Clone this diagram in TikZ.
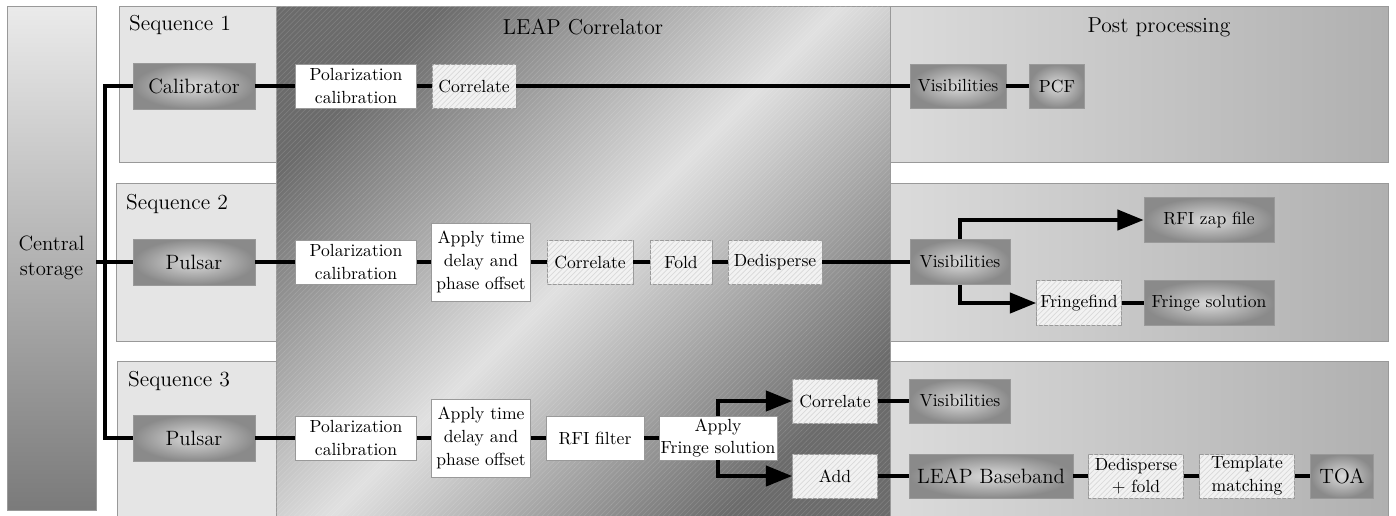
\documentclass[tikz,border=0pt]{standalone}
\usetikzlibrary{arrows.meta,patterns}

\definecolor{leapdark}{gray}{0.42}
\definecolor{leaplight}{gray}{0.88}

\begin{document}
\begin{tikzpicture}[x=0.02cm, y=-0.02cm,
    sz/.style 2 args={minimum width=#1*0.02cm, minimum height=#2*0.02cm},
    plain/.style={draw=black!40, fill=white, inner sep=1pt, align=center,
        font=\fontsize{10}{12.9}\selectfont},
    proc/.style={plain, fill=black!5, postaction={pattern=north east lines, pattern color=black!15}},
    data/.style={plain, inner color=black!14, outer color=black!46},
    bigtxt/.style={font=\fontsize{11.8}{14.5}\selectfont},
    title/.style={font=\fontsize{12.3}{15}\selectfont},
    conn/.style={line width=2.2pt},
    arr/.style={conn, -{Triangle[length=15pt,width=11.5pt]}}]
    \useasboundingbox (0,0) rectangle (1396,515);

    % Sequence rows
    \draw[draw=black!40, fill=black!10] (119,6) rectangle (890,162);
    \draw[draw=black!40, fill=black!10] (116,183) rectangle (890,341);
    \draw[draw=black!40, fill=black!10] (117,361) rectangle (890,520);
    \node[title] (seq1) at (180,25) {Sequence 1};
    \node[title] (seq2) at (177,204) {Sequence 2};
    \node[title] (seq3) at (179,381) {Sequence 3};

    % Post processing rows
    \shade[draw=black!40, left color=black!14, right color=black!31] (890,6) rectangle (1388,162);
    \shade[draw=black!40, left color=black!14, right color=black!31] (890,183) rectangle (1388,341);
    \shade[draw=black!40, left color=black!14, right color=black!31] (890,361) rectangle (1388,520);
    \node[title] (post) at (1159,27) {Post processing};

    % LEAP correlator
    \shade[draw=black!40, top color=leapdark, bottom color=leapdark, middle color=leaplight,
        shading angle=45] (276,6) rectangle (890,520);
    \fill[pattern=north east lines, pattern color=white, opacity=0.12] (276,6) rectangle (890,520);
    \node[title] (leap) at (583,27) {LEAP Correlator};

    % Central storage
    \node[draw=black!40, top color=black!8, middle color=black!20, bottom color=black!52,
        sz={89}{504}, inner sep=0pt, align=center, bigtxt] (store) at (51.5,258) {Central\\storage};

    % Sequence 1
    \node[data, bigtxt, sz={122}{46}] (cal) at (194,86) {Calibrator};
    \node[plain, sz={121}{44}] (pol1) at (356,86) {Polarization\\calibration};
    \node[proc, sz={84}{44}] (cor1) at (474,86) {Correlate};
    \node[data, sz={96}{44}] (vis1) at (958,86) {Visibilities};
    \node[data, sz={55}{44}] (pcf) at (1057,86) {PCF};

    % Sequence 2
    \node[data, bigtxt, sz={122}{46}] (psr2) at (194,262) {Pulsar};
    \node[plain, sz={121}{44}] (pol2) at (356,262) {Polarization\\calibration};
    \node[plain, sz={99}{78}] (app2) at (481,262) {Apply time\\delay and\\phase offset};
    \node[proc, sz={86}{44}] (cor2) at (590,262) {Correlate};
    \node[proc, sz={62}{44}] (fold) at (681,262) {Fold};
    \node[proc, sz={94}{44}] (dedisp) at (775,262) {Dedisperse};
    \node[data, sz={100}{45}] (vis2) at (960,262) {Visibilities};
    \node[data, sz={130}{45}] (rfizap) at (1209,220) {RFI zap file};
    \node[proc, sz={85}{45}] (ffind) at (1079,303) {Fringefind};
    \node[data, sz={130}{45}] (fsol) at (1209,303) {Fringe solution};

    % Sequence 3
    \node[data, bigtxt, sz={122}{46}] (psr3) at (194,438) {Pulsar};
    \node[plain, sz={121}{44}] (pol3) at (356,438) {Polarization\\calibration};
    \node[plain, sz={99}{78}] (app3) at (481,438) {Apply time\\delay and\\phase offset};
    \node[plain, sz={98}{44}] (rfi) at (595,438) {RFI filter};
    \node[plain, sz={116}{44}] (appf) at (718,438) {Apply\\Fringe solution};
    \node[proc, sz={85}{44}] (cor3) at (835,401) {Correlate};
    \node[proc, sz={85}{44}] (add) at (835,476) {Add};
    \node[data, sz={101}{44}] (vis3) at (960,401) {Visibilities};
    \node[data, bigtxt, sz={164}{44}] (base) at (991,476) {LEAP Baseband};
    \node[proc, sz={95}{44}] (dedf) at (1136,476) {Dedisperse\\+ fold};
    \node[proc, sz={95}{44}] (tmpl) at (1247,476) {Template\\matching};
    \node[data, bigtxt, sz={63}{44}] (toa) at (1342,476) {TOA};

    % Connectors
    \coordinate (bus) at (105,262);
    \draw[conn] (cal.west) -- (cal.west -| bus) -- (psr3.west -| bus) -- (psr3.west);
    \draw[conn] (store.east |- psr2.west) -- (psr2.west);
    \draw[conn] (cal) -- (pol1) -- (cor1) -- (vis1) -- (pcf);
    \draw[conn] (psr2) -- (pol2) -- (app2) -- (cor2) -- (fold) -- (dedisp) -- (vis2);
    \draw[arr] (vis2.north) |- (rfizap.west);
    \draw[arr] (vis2.south) |- (ffind.west);
    \draw[conn] (ffind) -- (fsol);
    \draw[conn] (psr3) -- (pol3) -- (app3) -- (rfi) -- (appf);
    \draw[arr] (appf.north) |- (cor3.west);
    \draw[arr] (appf.south) |- (add.west);
    \draw[conn] (cor3) -- (vis3);
    \draw[conn] (add) -- (base) -- (dedf) -- (tmpl) -- (toa);
\end{tikzpicture}
\end{document}
